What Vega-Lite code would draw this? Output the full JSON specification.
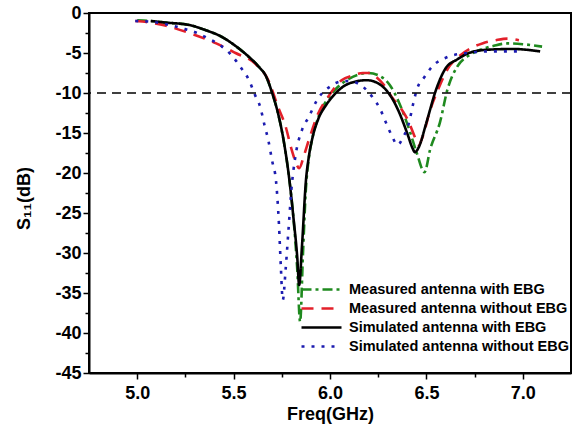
{
  "$schema": "https://vega.github.io/schema/vega-lite/v6.json",
  "width": 482,
  "height": 360,
  "autosize": "none",
  "padding": {"left": 89, "top": 13, "right": 2, "bottom": 58},
  "background": "white",
  "config": {
    "view": {"stroke": "black", "strokeWidth": 2},
    "axis": {
      "grid": false,
      "domainColor": "black",
      "domainWidth": 2,
      "tickColor": "black",
      "tickWidth": 1.5,
      "labelFont": "Liberation Sans",
      "labelFontWeight": "bold",
      "labelFontSize": 18,
      "labelColor": "black",
      "labelOverlap": false,
      "titleFont": "Liberation Sans",
      "titleFontWeight": "bold",
      "titleFontSize": 18,
      "titleColor": "black"
    },
    "legend": {
      "labelFont": "Liberation Sans",
      "labelFontWeight": "bold",
      "labelFontSize": 14.5,
      "labelColor": "black",
      "labelLimit": 400
    }
  },
  "resolve": {"axis": {"x": "independent", "y": "independent"}},
  "datasets": {
    "curves": [
      {"series": "Measured antenna with EBG", "f": 5.00, "s": -0.9},
      {"series": "Measured antenna with EBG", "f": 5.07, "s": -1.0},
      {"series": "Measured antenna with EBG", "f": 5.15, "s": -1.2},
      {"series": "Measured antenna with EBG", "f": 5.27, "s": -1.5},
      {"series": "Measured antenna with EBG", "f": 5.35, "s": -2.1},
      {"series": "Measured antenna with EBG", "f": 5.44, "s": -3.0},
      {"series": "Measured antenna with EBG", "f": 5.52, "s": -4.3},
      {"series": "Measured antenna with EBG", "f": 5.58, "s": -5.5},
      {"series": "Measured antenna with EBG", "f": 5.63, "s": -6.7},
      {"series": "Measured antenna with EBG", "f": 5.67, "s": -8.0},
      {"series": "Measured antenna with EBG", "f": 5.70, "s": -10.0},
      {"series": "Measured antenna with EBG", "f": 5.73, "s": -12.5},
      {"series": "Measured antenna with EBG", "f": 5.76, "s": -16.0},
      {"series": "Measured antenna with EBG", "f": 5.79, "s": -21.0},
      {"series": "Measured antenna with EBG", "f": 5.81, "s": -25.5},
      {"series": "Measured antenna with EBG", "f": 5.83, "s": -32.0},
      {"series": "Measured antenna with EBG", "f": 5.845, "s": -38.6},
      {"series": "Measured antenna with EBG", "f": 5.86, "s": -30.0},
      {"series": "Measured antenna with EBG", "f": 5.875, "s": -22.0},
      {"series": "Measured antenna with EBG", "f": 5.89, "s": -18.2},
      {"series": "Measured antenna with EBG", "f": 5.91, "s": -15.5},
      {"series": "Measured antenna with EBG", "f": 5.94, "s": -13.0},
      {"series": "Measured antenna with EBG", "f": 5.98, "s": -11.0},
      {"series": "Measured antenna with EBG", "f": 6.03, "s": -9.5},
      {"series": "Measured antenna with EBG", "f": 6.10, "s": -8.2},
      {"series": "Measured antenna with EBG", "f": 6.20, "s": -7.5},
      {"series": "Measured antenna with EBG", "f": 6.26, "s": -7.9},
      {"series": "Measured antenna with EBG", "f": 6.31, "s": -9.0},
      {"series": "Measured antenna with EBG", "f": 6.36, "s": -11.3},
      {"series": "Measured antenna with EBG", "f": 6.41, "s": -14.5},
      {"series": "Measured antenna with EBG", "f": 6.45, "s": -17.5},
      {"series": "Measured antenna with EBG", "f": 6.49, "s": -19.9},
      {"series": "Measured antenna with EBG", "f": 6.52, "s": -17.0},
      {"series": "Measured antenna with EBG", "f": 6.57, "s": -13.7},
      {"series": "Measured antenna with EBG", "f": 6.61, "s": -9.5},
      {"series": "Measured antenna with EBG", "f": 6.66, "s": -6.7},
      {"series": "Measured antenna with EBG", "f": 6.72, "s": -5.3},
      {"series": "Measured antenna with EBG", "f": 6.78, "s": -4.6},
      {"series": "Measured antenna with EBG", "f": 6.85, "s": -4.1},
      {"series": "Measured antenna with EBG", "f": 6.92, "s": -3.8},
      {"series": "Measured antenna with EBG", "f": 7.00, "s": -3.9},
      {"series": "Measured antenna with EBG", "f": 7.10, "s": -4.2},

      {"series": "Measured antenna without EBG", "f": 4.99, "s": -1.0},
      {"series": "Measured antenna without EBG", "f": 5.07, "s": -1.2},
      {"series": "Measured antenna without EBG", "f": 5.15, "s": -1.6},
      {"series": "Measured antenna without EBG", "f": 5.27, "s": -2.5},
      {"series": "Measured antenna without EBG", "f": 5.41, "s": -3.8},
      {"series": "Measured antenna without EBG", "f": 5.51, "s": -5.0},
      {"series": "Measured antenna without EBG", "f": 5.61, "s": -6.3},
      {"series": "Measured antenna without EBG", "f": 5.68, "s": -8.4},
      {"series": "Measured antenna without EBG", "f": 5.73, "s": -11.7},
      {"series": "Measured antenna without EBG", "f": 5.77, "s": -14.2},
      {"series": "Measured antenna without EBG", "f": 5.80, "s": -17.0},
      {"series": "Measured antenna without EBG", "f": 5.82, "s": -18.5},
      {"series": "Measured antenna without EBG", "f": 5.84, "s": -19.4},
      {"series": "Measured antenna without EBG", "f": 5.865, "s": -17.8},
      {"series": "Measured antenna without EBG", "f": 5.89, "s": -15.9},
      {"series": "Measured antenna without EBG", "f": 5.94, "s": -12.5},
      {"series": "Measured antenna without EBG", "f": 5.99, "s": -10.5},
      {"series": "Measured antenna without EBG", "f": 6.06, "s": -8.4},
      {"series": "Measured antenna without EBG", "f": 6.12, "s": -7.8},
      {"series": "Measured antenna without EBG", "f": 6.17, "s": -7.5},
      {"series": "Measured antenna without EBG", "f": 6.21, "s": -7.5},
      {"series": "Measured antenna without EBG", "f": 6.24, "s": -8.0},
      {"series": "Measured antenna without EBG", "f": 6.28, "s": -9.0},
      {"series": "Measured antenna without EBG", "f": 6.32, "s": -10.5},
      {"series": "Measured antenna without EBG", "f": 6.37, "s": -12.0},
      {"series": "Measured antenna without EBG", "f": 6.41, "s": -13.7},
      {"series": "Measured antenna without EBG", "f": 6.44, "s": -15.5},
      {"series": "Measured antenna without EBG", "f": 6.46, "s": -16.5},
      {"series": "Measured antenna without EBG", "f": 6.48, "s": -15.5},
      {"series": "Measured antenna without EBG", "f": 6.52, "s": -12.1},
      {"series": "Measured antenna without EBG", "f": 6.56, "s": -9.6},
      {"series": "Measured antenna without EBG", "f": 6.61, "s": -7.0},
      {"series": "Measured antenna without EBG", "f": 6.67, "s": -5.4},
      {"series": "Measured antenna without EBG", "f": 6.73, "s": -4.4},
      {"series": "Measured antenna without EBG", "f": 6.79, "s": -3.8},
      {"series": "Measured antenna without EBG", "f": 6.86, "s": -3.4},
      {"series": "Measured antenna without EBG", "f": 6.92, "s": -3.2},
      {"series": "Measured antenna without EBG", "f": 6.98, "s": -3.4},

      {"series": "Simulated antenna with EBG", "f": 5.07, "s": -1.0},
      {"series": "Simulated antenna with EBG", "f": 5.15, "s": -1.2},
      {"series": "Simulated antenna with EBG", "f": 5.27, "s": -1.5},
      {"series": "Simulated antenna with EBG", "f": 5.35, "s": -2.1},
      {"series": "Simulated antenna with EBG", "f": 5.44, "s": -3.0},
      {"series": "Simulated antenna with EBG", "f": 5.52, "s": -4.3},
      {"series": "Simulated antenna with EBG", "f": 5.58, "s": -5.5},
      {"series": "Simulated antenna with EBG", "f": 5.63, "s": -6.7},
      {"series": "Simulated antenna with EBG", "f": 5.67, "s": -8.0},
      {"series": "Simulated antenna with EBG", "f": 5.70, "s": -10.0},
      {"series": "Simulated antenna with EBG", "f": 5.73, "s": -12.5},
      {"series": "Simulated antenna with EBG", "f": 5.76, "s": -16.0},
      {"series": "Simulated antenna with EBG", "f": 5.79, "s": -21.0},
      {"series": "Simulated antenna with EBG", "f": 5.81, "s": -25.5},
      {"series": "Simulated antenna with EBG", "f": 5.83, "s": -30.5},
      {"series": "Simulated antenna with EBG", "f": 5.84, "s": -34.0},
      {"series": "Simulated antenna with EBG", "f": 5.855, "s": -29.0},
      {"series": "Simulated antenna with EBG", "f": 5.875, "s": -21.0},
      {"series": "Simulated antenna with EBG", "f": 5.89, "s": -18.0},
      {"series": "Simulated antenna with EBG", "f": 5.91, "s": -15.5},
      {"series": "Simulated antenna with EBG", "f": 5.94, "s": -13.2},
      {"series": "Simulated antenna with EBG", "f": 5.98, "s": -11.5},
      {"series": "Simulated antenna with EBG", "f": 6.03, "s": -10.0},
      {"series": "Simulated antenna with EBG", "f": 6.10, "s": -8.8},
      {"series": "Simulated antenna with EBG", "f": 6.19, "s": -8.4},
      {"series": "Simulated antenna with EBG", "f": 6.25, "s": -8.8},
      {"series": "Simulated antenna with EBG", "f": 6.29, "s": -9.6},
      {"series": "Simulated antenna with EBG", "f": 6.33, "s": -11.0},
      {"series": "Simulated antenna with EBG", "f": 6.36, "s": -12.5},
      {"series": "Simulated antenna with EBG", "f": 6.40, "s": -15.0},
      {"series": "Simulated antenna with EBG", "f": 6.43, "s": -17.0},
      {"series": "Simulated antenna with EBG", "f": 6.44, "s": -17.4},
      {"series": "Simulated antenna with EBG", "f": 6.46, "s": -16.8},
      {"series": "Simulated antenna with EBG", "f": 6.50, "s": -13.7},
      {"series": "Simulated antenna with EBG", "f": 6.55, "s": -9.6},
      {"series": "Simulated antenna with EBG", "f": 6.60, "s": -6.9},
      {"series": "Simulated antenna with EBG", "f": 6.66, "s": -5.8},
      {"series": "Simulated antenna with EBG", "f": 6.72, "s": -5.0},
      {"series": "Simulated antenna with EBG", "f": 6.81, "s": -4.6},
      {"series": "Simulated antenna with EBG", "f": 6.95, "s": -4.5},
      {"series": "Simulated antenna with EBG", "f": 7.09, "s": -4.8},

      {"series": "Simulated antenna without EBG", "f": 4.99, "s": -1.0},
      {"series": "Simulated antenna without EBG", "f": 5.07, "s": -1.1},
      {"series": "Simulated antenna without EBG", "f": 5.15, "s": -1.4},
      {"series": "Simulated antenna without EBG", "f": 5.23, "s": -1.9},
      {"series": "Simulated antenna without EBG", "f": 5.30, "s": -2.4},
      {"series": "Simulated antenna without EBG", "f": 5.37, "s": -3.2},
      {"series": "Simulated antenna without EBG", "f": 5.44, "s": -4.2},
      {"series": "Simulated antenna without EBG", "f": 5.49, "s": -5.3},
      {"series": "Simulated antenna without EBG", "f": 5.54, "s": -6.9},
      {"series": "Simulated antenna without EBG", "f": 5.58, "s": -8.4},
      {"series": "Simulated antenna without EBG", "f": 5.61, "s": -10.2},
      {"series": "Simulated antenna without EBG", "f": 5.64, "s": -11.9},
      {"series": "Simulated antenna without EBG", "f": 5.66, "s": -14.0},
      {"series": "Simulated antenna without EBG", "f": 5.68, "s": -15.9},
      {"series": "Simulated antenna without EBG", "f": 5.70, "s": -18.5},
      {"series": "Simulated antenna without EBG", "f": 5.72, "s": -21.0},
      {"series": "Simulated antenna without EBG", "f": 5.735, "s": -26.3},
      {"series": "Simulated antenna without EBG", "f": 5.745, "s": -31.7},
      {"series": "Simulated antenna without EBG", "f": 5.755, "s": -35.9},
      {"series": "Simulated antenna without EBG", "f": 5.77, "s": -32.0},
      {"series": "Simulated antenna without EBG", "f": 5.785, "s": -27.0},
      {"series": "Simulated antenna without EBG", "f": 5.80, "s": -22.0},
      {"series": "Simulated antenna without EBG", "f": 5.82, "s": -18.0},
      {"series": "Simulated antenna without EBG", "f": 5.855, "s": -14.6},
      {"series": "Simulated antenna without EBG", "f": 5.89, "s": -13.0},
      {"series": "Simulated antenna without EBG", "f": 5.93, "s": -11.0},
      {"series": "Simulated antenna without EBG", "f": 5.96, "s": -10.0},
      {"series": "Simulated antenna without EBG", "f": 6.00, "s": -9.2},
      {"series": "Simulated antenna without EBG", "f": 6.03, "s": -8.75},
      {"series": "Simulated antenna without EBG", "f": 6.08, "s": -8.5},
      {"series": "Simulated antenna without EBG", "f": 6.12, "s": -8.6},
      {"series": "Simulated antenna without EBG", "f": 6.17, "s": -9.2},
      {"series": "Simulated antenna without EBG", "f": 6.22, "s": -10.5},
      {"series": "Simulated antenna without EBG", "f": 6.26, "s": -12.0},
      {"series": "Simulated antenna without EBG", "f": 6.29, "s": -13.7},
      {"series": "Simulated antenna without EBG", "f": 6.32, "s": -15.3},
      {"series": "Simulated antenna without EBG", "f": 6.35, "s": -16.5},
      {"series": "Simulated antenna without EBG", "f": 6.38, "s": -15.5},
      {"series": "Simulated antenna without EBG", "f": 6.41, "s": -13.7},
      {"series": "Simulated antenna without EBG", "f": 6.43, "s": -11.5},
      {"series": "Simulated antenna without EBG", "f": 6.45, "s": -9.6},
      {"series": "Simulated antenna without EBG", "f": 6.49, "s": -8.0},
      {"series": "Simulated antenna without EBG", "f": 6.53, "s": -6.7},
      {"series": "Simulated antenna without EBG", "f": 6.61, "s": -5.5},
      {"series": "Simulated antenna without EBG", "f": 6.71, "s": -5.0},
      {"series": "Simulated antenna without EBG", "f": 6.84, "s": -4.8},
      {"series": "Simulated antenna without EBG", "f": 7.00, "s": -4.8}
    ],
    "threshold": [{"level": -10, "f": 6.0}]
  },
  "layer": [
    {
      "data": {"name": "curves"},
      "mark": {"type": "line", "strokeWidth": 2.6, "interpolate": "monotone"},
      "encoding": {
        "x": {
          "field": "f",
          "type": "quantitative",
          "scale": {"domain": [4.75, 7.25], "nice": false, "zero": false},
          "axis": {
            "orient": "bottom",
            "title": "Freq(GHz)",
            "values": [5.0, 5.5, 6.0, 6.5, 7.0],
            "format": ".1f",
            "tickSize": 6,
            "labelPadding": 5,
            "titleBaseline": "middle",
            "titleY": 41
          }
        },
        "y": {
          "field": "s",
          "type": "quantitative",
          "scale": {"domain": [-45, 0], "nice": false},
          "axis": {
            "orient": "left",
            "title": "S₁₁(dB)",
            "values": [-45, -40, -35, -30, -25, -20, -15, -10, -5, 0],
            "labelExpr": "replace(datum.label, '\u2212', '-')",
            "tickSize": 6,
            "labelPadding": 2,
            "titleBaseline": "middle",
            "titleX": -65,
            "titleY": 185
          }
        },
        "color": {
          "field": "series",
          "type": "nominal",
          "scale": {
            "domain": ["Measured antenna with EBG", "Measured antenna without EBG", "Simulated antenna with EBG", "Simulated antenna without EBG"],
            "range": ["#1f8a1f", "#e3202a", "#000000", "#1c1cb0"]
          },
          "legend": {
            "title": null,
            "orient": "none",
            "legendX": 221,
            "legendY": 265,
            "symbolType": "M-2,0H2",
            "symbolSize": 400,
            "symbolStrokeWidth": 2.6,
            "symbolFillColor": "transparent",
            "rowPadding": 1,
            "labelOffset": 16
          }
        },
        "strokeDash": {
          "field": "series",
          "type": "nominal",
          "scale": {
            "domain": ["Measured antenna with EBG", "Measured antenna without EBG", "Simulated antenna with EBG", "Simulated antenna without EBG"],
            "range": [[10, 4, 3, 4], [12, 8], [1, 0], [3, 7]]
          },
          "legend": {
            "title": null,
            "orient": "none",
            "legendX": 221,
            "legendY": 265,
            "symbolType": "M-2,0H2",
            "symbolSize": 400,
            "symbolStrokeWidth": 2.6,
            "symbolFillColor": "transparent",
            "rowPadding": 1,
            "labelOffset": 16
          }
        }
      }
    },
    {
      "data": {"name": "threshold"},
      "mark": {"type": "rule", "color": "black", "strokeWidth": 1.5, "strokeDash": [9, 6]},
      "encoding": {
        "y": {
          "field": "level",
          "type": "quantitative",
          "axis": {
            "orient": "left",
            "title": null,
            "values": [-42.5, -37.5, -32.5, -27.5, -22.5, -17.5, -12.5, -7.5, -2.5],
            "labels": false,
            "domain": false,
            "tickSize": 4
          }
        }
      }
    },
    {
      "data": {"name": "threshold"},
      "mark": {"type": "point", "opacity": 0},
      "encoding": {
        "x": {
          "field": "f",
          "type": "quantitative",
          "axis": {
            "orient": "bottom",
            "title": null,
            "values": [5.25, 5.75, 6.25, 6.75],
            "labels": false,
            "domain": false,
            "tickSize": 4
          }
        },
        "y": {"field": "level", "type": "quantitative", "axis": null}
      }
    }
  ]
}
